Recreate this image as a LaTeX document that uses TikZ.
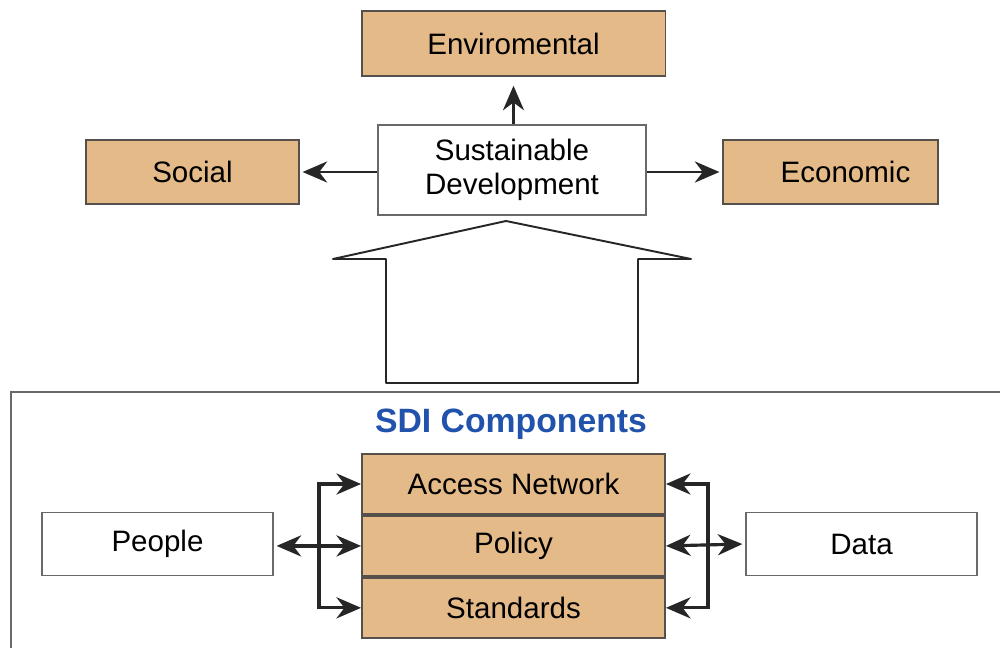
\documentclass[tikz,border=0pt]{standalone}
\usepackage{fontspec}
\setmainfont{Liberation Sans}
\usetikzlibrary{arrows.meta}
\usetikzlibrary{positioning}
\definecolor{tanfill}{RGB}{228,186,136}
\definecolor{tanline}{RGB}{85,80,75}
\definecolor{boxline}{RGB}{105,105,105}
\definecolor{sdiblue}{RGB}{33,82,172}
\tikzset {
  box/.style = {
    draw = boxline,
    line width = 1.1pt,
    rectangle,
    inner sep = 0,
    font = \fontsize{16.8}{19}\selectfont
  },
  % coloured pillar / component
  pillar/.style = {
    box,
    draw = tanline,
    fill = tanfill
  },
  % plain white box
  plain/.style = {
    box,
    fill = white
  },
  tip/.tip = {Stealth[length=14pt, width=12pt, inset=4.5pt]},
  link/.style = {
    draw = black!85,
    line width = 1.4pt,
    -tip
  },
  blink/.style = {
    link,
    line width = 1.8pt,
    tip-tip
  },
  node distance = 0pt
}
\begin{document}
\begin{tikzpicture}[x=0.02cm, y=-0.02cm]
  \clip (0,0) rectangle (1000,648);
  \fill[white] (0,0) rectangle (1000,648);

  % outer frame of the SDI part
  \draw[boxline, line width=1.1pt] (11,392) rectangle (1015,670);

  % top level
  \node[pillar, minimum width=6.08cm, minimum height=1.3cm] (env) at (513.5,43.5) {Enviromental};
  \node[plain, minimum width=5.36cm, minimum height=1.8cm, align=center] (sd) at (512,170) {Sustainable\\Development};
  \node[pillar, minimum width=4.26cm, minimum height=1.28cm] (social) at (192.5,172) {Social};
  \node[pillar, minimum width=4.3cm, minimum height=1.28cm] (econ) at (830.5,172) {\hspace*{0.6cm}Economic};

  \draw[link, shorten >=5pt] (sd.north -| env.south) -- (env.south);
  \draw[link, shorten >=1.5pt] (sd.west |- social.east) -- (social.east);
  \draw[link, shorten >=1.5pt] (sd.east |- econ.west) -- (econ.west);

  % big arrow
  \draw[black!85, line width=1.1pt, line join=round, fill=white]
    (386,383) -- (386,259) -- (333,259) -- (506,221) -- (691,259)
    -- (638,259) -- (638,383) -- cycle;

  % SDI components
  \node[font=\bfseries\fontsize{19.2}{22}\selectfont, text=sdiblue] (title) at (511,424) {SDI Components};
  \node[pillar, minimum width=6.06cm, minimum height=1.2cm] (access) at (513.5,484) {Access Network};
  \node[pillar, minimum width=6.06cm, minimum height=1.2cm] (policy) [below=of access] {Policy};
  \node[pillar, minimum width=6.06cm, minimum height=1.2cm] (standards) [below=of policy] {Standards};
  \node[plain, minimum width=4.62cm, minimum height=1.26cm] (people) at (157.5,544) {People};
  \node[plain, minimum width=4.62cm, minimum height=1.26cm] (data) at (861.5,544) {Data};

  \coordinate (lbus) at (319,544);
  \coordinate (rbus) at (708,544);

  \draw[blink, shorten <=1.5pt] (people.east |- policy.west) -- (policy.west);
  \draw[link, line width=1.8pt] (lbus) |- (access.west);
  \draw[link, line width=1.8pt] (lbus) |- (standards.west);

  \draw[blink, shorten >=1.5pt] (policy.east) -- (data.west);
  \draw[link, line width=1.8pt] (rbus) |- (access.east);
  \draw[link, line width=1.8pt] (rbus) |- (standards.east);
\end{tikzpicture}
\end{document}
